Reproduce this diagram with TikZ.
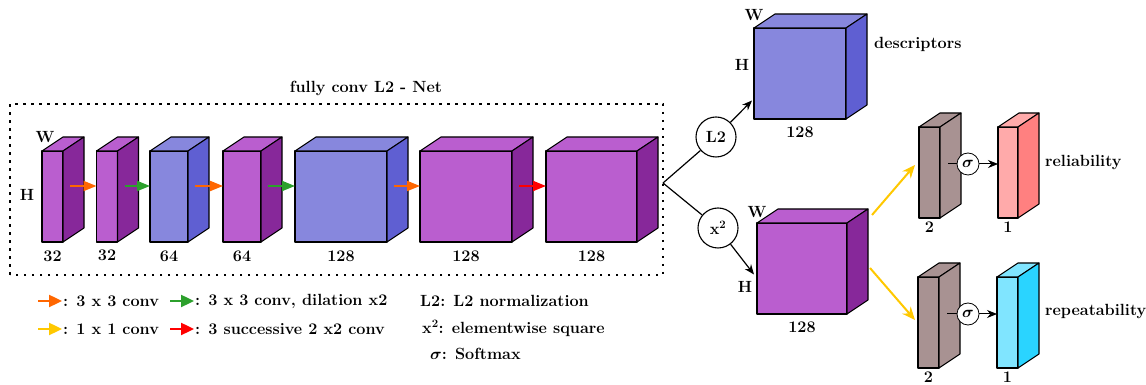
\RequirePackage{fix-cm}
\documentclass[tikz,border=0pt]{standalone}
\usepackage{amsmath}
\usepackage{tikz}
\usetikzlibrary{arrows.meta, calc, positioning}

\definecolor{layerfront}{RGB}{186,94,207}
\definecolor{layerside}{RGB}{135,40,154}
\definecolor{normfront}{RGB}{135,135,221}
\definecolor{normside}{RGB}{95,95,210}
\definecolor{headgray}{RGB}{168,146,146}
\definecolor{relfront}{RGB}{255,170,170}
\definecolor{relside}{RGB}{255,128,128}
\definecolor{repfront}{RGB}{128,229,255}
\definecolor{repside}{RGB}{42,212,255}
\definecolor{convorange}{RGB}{255,102,0}
\definecolor{dilgreen}{RGB}{44,160,44}
\definecolor{onexone}{RGB}{255,200,0}

% front face is a named node, top and side are drawn from its corners
\newcommand{\layer}[6]{%
  \node[face, fill=#5, minimum width=#3, minimum height=#4] (#1) at (#2) {};
  \draw[face, fill=#5] (#1.north west) -- ++(21,14) -- ++(#3,0) -- (#1.north east) -- cycle;
  \draw[face, fill=#6] (#1.north east) -- ++(21,14) -- ++(0,-#4) -- (#1.south east) -- cycle;
}

\begin{document}
\begin{tikzpicture}[
        x=1pt, y=1pt,
        face/.style={draw=black, line width=1.1pt, inner sep=0pt, outer sep=0pt, line join=round},
        txt/.style={font=\fontsize{16.2}{19}\selectfont\bfseries, inner sep=1pt},
        legend/.style={font=\fontsize{16.2}{19}\selectfont\bfseries, inner sep=1pt, anchor=west},
        op/.style={circle, draw=black, line width=1.1pt, minimum size=40pt, inner sep=0pt, font=\fontsize{16.2}{19}\selectfont\bfseries},
        sig/.style={circle, draw=black, line width=0.8pt, minimum size=22pt, inner sep=0pt, fill=white, font=\fontsize{16.2}{19}\selectfont},
        flow/.style={line width=2pt, -{Triangle[length=13pt, width=10pt]}},
        key/.style={line width=2.4pt, -{Triangle[length=13pt, width=12pt]}},
        link/.style={line width=1.2pt, -{Stealth[length=10pt, width=8pt]}},
        head/.style={line width=2pt, draw=onexone, -{Stealth[length=13pt, width=11pt]}},
        box/.style={draw=black, line width=1.3pt, dash pattern=on 2.5pt off 5.5pt}
    ]
        \useasboundingbox (0,0) rectangle (1146,385);

        % backbone
        \draw[box] (10,110) rectangle (663,281);
        \node[txt] (title) at (366,297) {fully conv L2 - Net};

        \layer{c1}{52.5,188.5}{21}{91}{layerfront}{layerside}
        \layer{c2}{107,188.5}{21}{91}{layerfront}{layerside}
        \layer{c3}{169,188.5}{38}{91}{normfront}{normside}
        \layer{c4}{242,188.5}{38}{91}{layerfront}{layerside}
        \layer{c5}{341,188.5}{92}{91}{normfront}{normside}
        \layer{c6}{466,188.5}{92}{91}{layerfront}{layerside}
        \layer{c7}{591.5,188.5}{91}{91}{layerfront}{layerside}

        \node[txt] (w1) at (45,248) {W};
        \node[txt] (h1) at (27,190) {H};

        \node[txt, below=8pt of c1] {32};
        \node[txt, below=7pt of c2] {32};
        \node[txt, below=8pt of c3] {64};
        \node[txt, below=8pt of c4] {64};
        \node[txt, below=8pt of c5] {128};
        \node[txt, below=8pt of c6] {128};
        \node[txt, below=8pt of c7] {128};

        \draw[flow, convorange] ([shift={(7,10.5)}]c1.east) -- ([yshift=10.5]c2.west);
        \draw[flow, dilgreen] ([shift={(7,10.5)}]c2.east) -- ([yshift=10.5]c3.west);
        \draw[flow, convorange] ([shift={(7,10.5)}]c3.east) -- ([yshift=10.5]c4.west);
        \draw[flow, dilgreen] ([shift={(7,10.5)}]c4.east) -- ([yshift=10.5]c5.west);
        \draw[flow, convorange] ([shift={(7,10.5)}]c5.east) -- ([yshift=10.5]c6.west);
        \draw[flow, red] ([shift={(7,10.5)}]c6.east) -- ([yshift=10.5]c7.west);

        % descriptor branch
        \coordinate (split) at (663,202);
        \node[op] (l2) at (716,248) {L2};
        \node[op] (sq) at (718,157) {x\textsuperscript{2}};
        \draw[line width=1.2pt] (split) -- (l2);
        \draw[line width=1.2pt] (split) -- (sq);

        \layer{desc}{800,311.5}{92}{91}{normfront}{normside}
        \node[txt] (w2) at (754,370) {W};
        \node[txt] (h2) at (742,320) {H};
        \node[txt, below=7pt of desc] {128};
        \node[txt, anchor=west] (descl) at (873,341) {descriptors};
        \draw[link] (l2) -- ([shift={(-2,-27)}]desc.west);

        \layer{sqmap}{802,116.5}{90}{91}{layerfront}{layerside}
        \node[txt] (w3) at (757,173) {W};
        \node[txt] (h3) at (745,98) {H};
        \node[txt, below=7pt of sqmap] {128};
        \draw[link] (sq) -- ([shift={(-3,-6)}]sqmap.west);

        % reliability and repeatability heads
        \layer{rel2}{929.5,212.5}{21}{91}{headgray}{headgray}
        \layer{rel1}{1008,212.5}{20}{91}{relfront}{relside}
        \layer{rep2}{928.5,62.5}{21}{91}{headgray}{headgray}
        \layer{rep1}{1007.5,62.5}{21}{91}{repfront}{repside}

        \node[txt, below=3pt of rel2] {2};
        \node[txt, below=3pt of rel1] {1};
        \node[txt, below=3pt of rep2] {2};
        \node[txt, below=3pt of rep1] {1};
        \node[txt, anchor=west] (rell) at (1044,222) {reliability};
        \node[txt, anchor=west] (repl) at (1044,73) {repeatability};

        \draw[head] ([shift={(25,8)}]sqmap.north east) -- ([shift={(-4,7.5)}]rel2.west);
        \draw[head] ([shift={(23,0.5)}]sqmap.east) -- ([shift={(-3,2.5)}]rep2.west);

        \node[sig] (s1) at (968,221) {$\boldsymbol{\sigma}$};
        \node[sig] (s2) at (968,71) {$\boldsymbol{\sigma}$};
        \draw[line width=1pt] ([shift={(8,8.5)}]rel2.east) -- (s1);
        \draw[link, line width=1pt] (s1) -- ([yshift=8.5]rel1.west);
        \draw[line width=1pt] ([shift={(8,8.5)}]rep2.east) -- (s2);
        \draw[link, line width=1pt] (s2) -- ([yshift=8.5]rep1.west);

        % legend
        \node[legend] (lg1) at (62,84) {: 3 x 3 conv};
        \node[legend] (lg2) at (194,84) {: 3 x 3 conv, dilation x2};
        \node[legend] (lg3) at (62,56) {: 1 x 1 conv};
        \node[legend] (lg4) at (194,56) {: 3 successive 2 x2 conv};
        \draw[key, convorange] ([xshift=-24]lg1.west) -- (lg1.west);
        \draw[key, dilgreen] ([xshift=-24]lg2.west) -- (lg2.west);
        \draw[key, onexone] ([xshift=-24]lg3.west) -- (lg3.west);
        \draw[key, red] ([xshift=-24]lg4.west) -- (lg4.west);

        \node[legend] (lg5) at (419,84) {L2: L2 normalization};
        \node[legend] (lg6) at (421,57) {x\textsuperscript{2}: elementwise square};
        \node[legend] (lg7) at (429,31) {$\boldsymbol{\sigma}$: Softmax};
\end{tikzpicture}
\end{document}
